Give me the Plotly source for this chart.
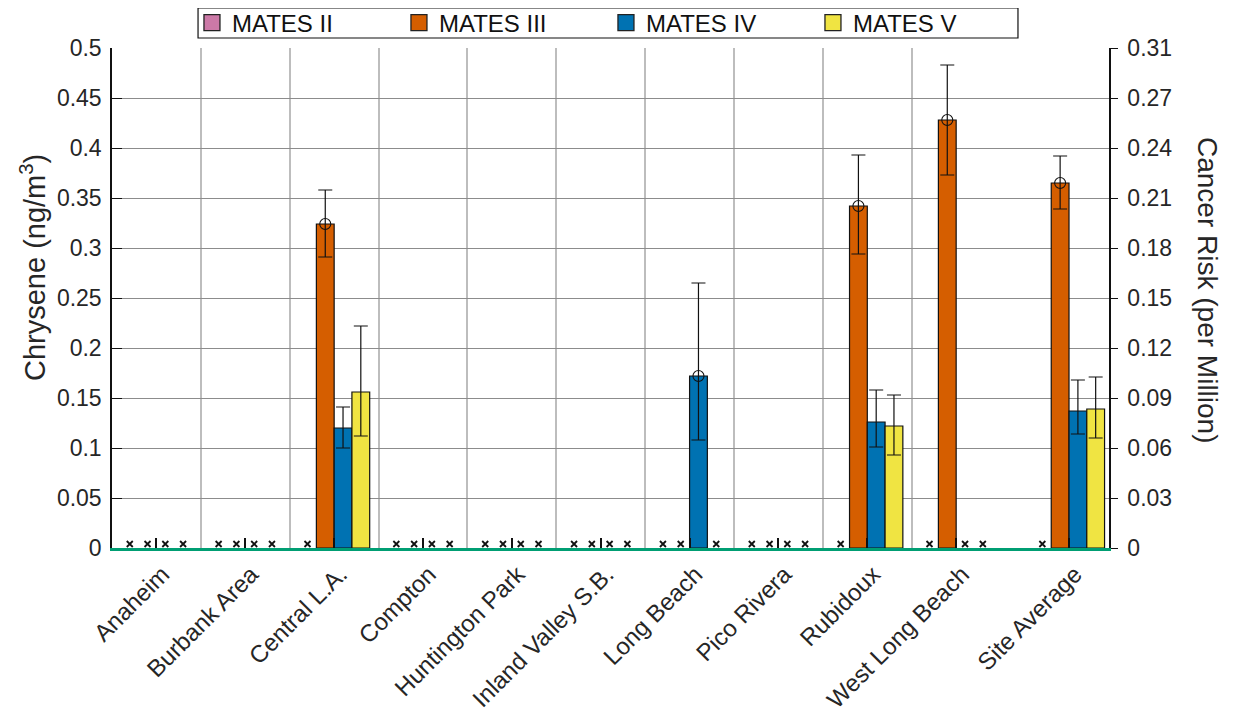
import plotly.graph_objects as go

# ---------------- data ----------------
sites = ["Anaheim", "Burbank Area", "Central L.A.", "Compton", "Huntington Park",
         "Inland Valley S.B.", "Long Beach", "Pico Rivera", "Rubidoux",
         "West Long Beach", "Site Average"]
site_pos = [1, 2, 3, 4, 5, 6, 7, 8, 9, 10, 11.27]

series_names = ["MATES II", "MATES III", "MATES IV", "MATES V"]

mates2 = [None] * 11
mates3 = [None, None, 0.324, None, None, None, None, None, 0.342, 0.428, 0.365]
mates4 = [None, None, 0.120, None, None, None, 0.172, None, 0.126, None, 0.137]
mates5 = [None, None, 0.156, None, None, None, None, None, 0.122, None, 0.139]

# error bar ends (upper / lower values)
mates2_hi = [None] * 11
mates2_lo = [None] * 11
mates3_hi = [None, None, 0.358, None, None, None, None, None, 0.393, 0.483, 0.392]
mates3_lo = [None, None, 0.291, None, None, None, None, None, 0.294, 0.373, 0.339]
mates4_hi = [None, None, 0.141, None, None, None, 0.265, None, 0.158, None, 0.168]
mates4_lo = [None, None, 0.100, None, None, None, 0.108, None, 0.101, None, 0.114]
mates5_hi = [None, None, 0.222, None, None, None, None, None, 0.153, None, 0.171]
mates5_lo = [None, None, 0.112, None, None, None, None, None, 0.093, None, 0.110]

# circle markers
mates3_circ = [None, None, 0.324, None, None, None, None, None, 0.342, 0.428, 0.365]
mates4_circ = [None, None, None, None, None, None, 0.172, None, None, None, None]

missing_y = 0.004  # height at which "no data" crosses are shown

y_tickvals = [0, 0.05, 0.1, 0.15, 0.2, 0.25, 0.3, 0.35, 0.4, 0.45, 0.5]
y_ticktext = ["0", "0.05", "0.1", "0.15", "0.2", "0.25", "0.3", "0.35", "0.4", "0.45", "0.5"]
y2_ticktext = ["0", "0.03", "0.06", "0.09", "0.12", "0.15", "0.18", "0.21", "0.24", "0.27", "0.31"]

# ---------------- style ----------------
colors = ["#CC79A7", "#D55E00", "#0072B2", "#F0E442"]
offsets = [-0.3, -0.1, 0.1, 0.3]
bar_w = 0.2
FONT = "Liberation Sans, Arial, Helvetica, sans-serif"
TXT = "#262626"

values = [mates2, mates3, mates4, mates5]
his = [mates2_hi, mates3_hi, mates4_hi, mates5_hi]
los = [mates2_lo, mates3_lo, mates4_lo, mates5_lo]
circs = [None, mates3_circ, mates4_circ, None]

fig = go.Figure()

for i, name in enumerate(series_names):
    xs = [p + offsets[i] for p in site_pos]
    vals = values[i]
    plus = [(h - v) if (v is not None and h is not None) else None for v, h in zip(vals, his[i])]
    minus = [(v - l) if (v is not None and l is not None) else None for v, l in zip(vals, los[i])]
    fig.add_trace(go.Bar(
        x=xs, y=vals, width=bar_w, showlegend=False, name=name,
        marker=dict(color=colors[i], line=dict(color="#111111", width=1.2)),
        error_y=dict(type="data", symmetric=False, array=plus, arrayminus=minus,
                     color="#111111", thickness=1.2, width=7),
    ))
    # no-data crosses
    mx = [x for x, v in zip(xs, vals) if v is None]
    fig.add_trace(go.Scatter(
        x=mx, y=[missing_y] * len(mx), mode="markers", showlegend=False,
        marker=dict(symbol="x-thin", size=6, line=dict(color="#111111", width=1.8)),
        hoverinfo="skip",
    ))
    if circs[i] is not None:
        cx = [x for x, c in zip(xs, circs[i]) if c is not None]
        cy = [c for c in circs[i] if c is not None]
        fig.add_trace(go.Scatter(
            x=cx, y=cy, mode="markers", showlegend=False,
            marker=dict(symbol="circle-open", size=11, color="#111111",
                        line=dict(color="#111111", width=1.1)),
        ))

# legend proxies
for i, name in enumerate(series_names):
    fig.add_trace(go.Scatter(
        x=[None], y=[None], mode="markers", name=name,
        marker=dict(symbol="square", size=16, color=colors[i],
                    line=dict(color="#222222", width=1.3)),
    ))

# right-axis carrier
fig.add_trace(go.Scatter(x=[None], y=[None], yaxis="y2", showlegend=False, hoverinfo="skip"))

fig.update_layout(
    width=1240, height=705,
    margin=dict(l=104, r=139, t=40, b=165, autoexpand=False),
    paper_bgcolor="white", plot_bgcolor="white",
    font=dict(family=FONT, color=TXT, size=22),
    barmode="overlay",
    xaxis=dict(
        range=[0.5, 11.72], tickmode="array", tickvals=site_pos, ticktext=sites,
        tickangle=-45, ticks="inside", ticklen=10, tickwidth=1.5, tickcolor="#111111",
        tickfont=dict(size=24, color=TXT), ticklabelshift=6,
        showgrid=False, zeroline=False,
        showline=True, linecolor="#009E73", linewidth=2.5,
        minor=dict(tickmode="array", tickvals=[1.5, 2.5, 3.5, 4.5, 5.5, 6.5, 7.5, 8.5, 9.5],
                   showgrid=True, gridcolor="#bdbdbd", gridwidth=2, ticks=""),
    ),
    yaxis=dict(
        range=[0, 0.5], tickmode="array", tickvals=y_tickvals, ticktext=y_ticktext,
        ticks="inside", ticklen=10, tickwidth=1.2, tickcolor="#111111",
        tickfont=dict(size=23, color=TXT), ticklabelstandoff=4,
        showgrid=True, gridcolor="#8c8c8c", gridwidth=1.3,
        zeroline=False, showline=True, linecolor="#111111", linewidth=1.5,
    ),
    yaxis2=dict(
        overlaying="y", side="right", range=[0, 0.5], tickmode="array",
        tickvals=y_tickvals, ticktext=y2_ticktext,
        ticks="outside", ticklen=7, tickwidth=1.2, tickcolor="#111111",
        tickfont=dict(size=23, color=TXT), ticklabelstandoff=5,
        showgrid=False, zeroline=False, showline=True, linecolor="#111111", linewidth=1.5,
    ),
    legend=dict(
        orientation="h", x=0.0802, xanchor="left", y=1.05, yanchor="middle",
        borderwidth=0, bgcolor="rgba(0,0,0,0)",
        font=dict(size=24, color="#111111"),
        entrywidth=162, entrywidthmode="pixels", itemwidth=30,
    ),
    shapes=[dict(
        type="rect", xref="paper", yref="paper",
        x0=0.0863, x1=0.9087, y0=1.02, y1=1.08,
        line=dict(color="#111111", width=1.2), fillcolor="rgba(0,0,0,0)", layer="below",
    )],
    annotations=[
        dict(text="Chrysene (ng/m<sup>3</sup>)", xref="paper", yref="paper",
             x=-0.0792, y=0.56, textangle=-90, showarrow=False,
             font=dict(size=29, color=TXT), xanchor="center", yanchor="middle"),
        dict(text="Cancer Risk (per Million)", xref="paper", yref="paper",
             x=1.0993, y=0.516, textangle=90, showarrow=False,
             font=dict(size=28, color=TXT), xanchor="center", yanchor="middle"),
    ],
)

fig.write_html("out.html")
